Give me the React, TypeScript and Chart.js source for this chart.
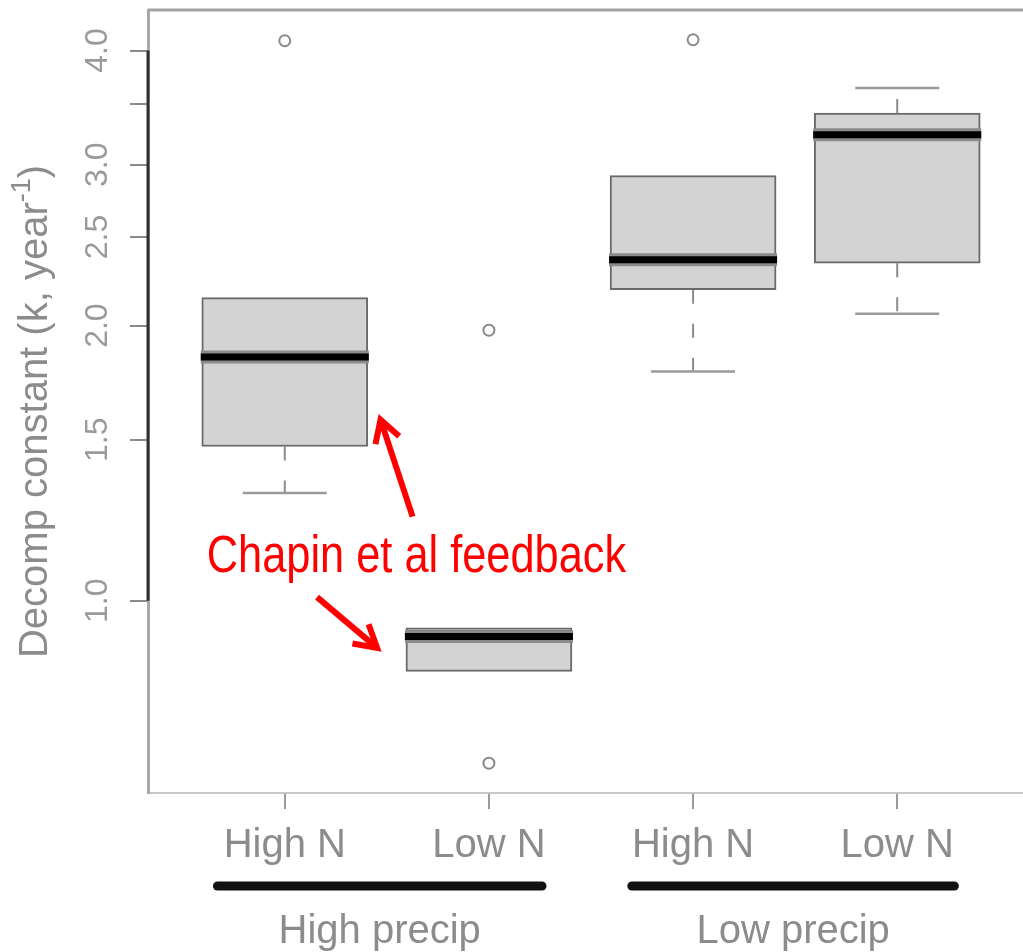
import { useEffect, useRef } from "react";
import { Chart, registerables } from "chart.js";

Chart.register(...registerables);

// Treatment categories along the x axis (positions 1..4)
const categories = ["High N", "Low N", "High N", "Low N"];

// Precipitation groups spanning pairs of categories
const groupLabels = ["High precip", "Low precip"];
const groupStart = [0.67, 2.7];
const groupEnd = [2.26, 4.28];

// Five-number summaries of the decomposition constant per treatment
const lowerWhisker = [1.312, 0.837, 1.782, 2.061];
const lowerQuartile = [1.475, 0.837, 2.189, 2.341];
const medianValue = [1.848, 0.914, 2.361, 3.235];
const upperQuartile = [2.146, 0.934, 2.918, 3.417];
const upperWhisker = [2.146, 0.934, 2.918, 3.639];
const outlierValues = [[4.1], [1.977, 0.664], [4.11], []];

// Log-scaled y axis ticks
const yTickValues = [1.0, 1.5, 2.0, 2.5, 3.0, 3.5, 4.0];
const yTickLabels = ["1.0", "1.5", "2.0", "2.5", "3.0", "", "4.0"];

const yTitle = "Decomp constant (k, year";
const yTitleExponent = "-1";
const noteText = "Chapin et al feedback";

const SANS = '"Liberation Sans", Arial, Helvetica, sans-serif';
const TEXT_GREY = "#8c8c8c";

// Annotation placement, in axis units (x category position, y decomp constant)
const NOTE_ANCHOR = { x: 1.645, y: 1.076 };
const NOTE_ARROWS = [
  { from: { x: 1.626, y: 1.236 }, to: { x: 1.469, y: 1.578 } },
  { from: { x: 1.158, y: 1.009 }, to: { x: 1.452, y: 0.888 } },
];

const positions = categories.map((_, i) => i + 1);

function drawArrow(ctx: CanvasRenderingContext2D, x0: number, y0: number, x1: number, y1: number) {
  const ang = Math.atan2(y0 - y1, x0 - x1);
  const head = 25;
  const spread = Math.PI / 6;
  ctx.beginPath();
  ctx.moveTo(x0, y0);
  ctx.lineTo(x1, y1);
  ctx.stroke();
  ctx.beginPath();
  ctx.moveTo(x1 + Math.cos(ang + spread) * head, y1 + Math.sin(ang + spread) * head);
  ctx.lineTo(x1, y1);
  ctx.lineTo(x1 + Math.cos(ang - spread) * head, y1 + Math.sin(ang - spread) * head);
  ctx.stroke();
}

const decorations = {
  id: "decorations",
  afterDraw(chart: any) {
    const { ctx, chartArea: a } = chart;
    const xs = chart.scales.x;
    const ys = chart.scales.y;
    ctx.save();

    // frame line along the top of the plot region
    ctx.strokeStyle = "#a4a4a4";
    ctx.lineWidth = 3;
    ctx.beginPath();
    ctx.moveTo(a.left, a.top);
    ctx.lineTo(a.right, a.top);
    ctx.stroke();

    // dark axis line between the first and last y tick
    ctx.strokeStyle = "#303030";
    ctx.lineWidth = 3;
    ctx.beginPath();
    ctx.moveTo(a.left, ys.getPixelForValue(yTickValues[0]));
    ctx.lineTo(a.left, ys.getPixelForValue(yTickValues[yTickValues.length - 1]));
    ctx.stroke();

    // y axis title with superscript exponent
    ctx.save();
    ctx.translate(36, (a.top + a.bottom) / 2 + 10);
    ctx.rotate(-Math.PI / 2);
    ctx.fillStyle = TEXT_GREY;
    ctx.textBaseline = "middle";
    ctx.textAlign = "left";
    ctx.font = `40px ${SANS}`;
    const w1 = ctx.measureText(yTitle).width;
    const w3 = ctx.measureText(")").width;
    ctx.font = `27px ${SANS}`;
    const w2 = ctx.measureText(yTitleExponent).width;
    let cx = -(w1 + w2 + w3) / 2;
    ctx.font = `40px ${SANS}`;
    ctx.fillText(yTitle, cx, 0);
    cx += w1;
    ctx.font = `27px ${SANS}`;
    ctx.fillText(yTitleExponent, cx, -13);
    cx += w2;
    ctx.font = `40px ${SANS}`;
    ctx.fillText(")", cx, 0);
    ctx.restore();

    // group bars and labels under the category labels
    groupLabels.forEach((label, i) => {
      const gx0 = xs.getPixelForValue(groupStart[i]);
      const gx1 = xs.getPixelForValue(groupEnd[i]);
      ctx.strokeStyle = "#111";
      ctx.lineWidth = 9;
      ctx.lineCap = "round";
      ctx.beginPath();
      ctx.moveTo(gx0, a.bottom + 93);
      ctx.lineTo(gx1, a.bottom + 93);
      ctx.stroke();
      ctx.fillStyle = TEXT_GREY;
      ctx.font = `40px ${SANS}`;
      ctx.textAlign = "center";
      ctx.textBaseline = "alphabetic";
      ctx.fillText(label, (gx0 + gx1) / 2, a.bottom + 150);
    });

    // red annotation, set in a condensed face
    ctx.fillStyle = "#ff0000";
    ctx.strokeStyle = "#ff0000";
    ctx.save();
    ctx.translate(xs.getPixelForValue(NOTE_ANCHOR.x), ys.getPixelForValue(NOTE_ANCHOR.y));
    ctx.scale(0.85, 1);
    ctx.font = `51px ${SANS}`;
    ctx.textAlign = "center";
    ctx.textBaseline = "alphabetic";
    ctx.fillText(noteText, 0, 0);
    ctx.restore();
    ctx.lineWidth = 6;
    ctx.lineCap = "butt";
    ctx.lineJoin = "miter";
    NOTE_ARROWS.forEach((arr) => {
      drawArrow(
        ctx,
        xs.getPixelForValue(arr.from.x),
        ys.getPixelForValue(arr.from.y),
        xs.getPixelForValue(arr.to.x),
        ys.getPixelForValue(arr.to.y)
      );
    });
    ctx.restore();
  },
};

export default function App() {
  const canvasRef = useRef<HTMLCanvasElement | null>(null);

  useEffect(() => {
    const canvas = canvasRef.current;
    if (!canvas) return;

    const whiskerPoints: any[] = [];
    const capPoints: any[] = [];
    positions.forEach((x, i) => {
      if (lowerWhisker[i] < lowerQuartile[i]) {
        whiskerPoints.push({ x, y: lowerQuartile[i] }, { x, y: lowerWhisker[i] }, { x, y: null });
        capPoints.push({ x, y: lowerWhisker[i] });
      }
      if (upperWhisker[i] > upperQuartile[i]) {
        whiskerPoints.push({ x, y: upperQuartile[i] }, { x, y: upperWhisker[i] }, { x, y: null });
        capPoints.push({ x, y: upperWhisker[i] });
      }
    });
    const medianPoints = positions.map((x, i) => ({ x, y: medianValue[i] }));
    const outlierPoints: any[] = [];
    positions.forEach((x, i) => outlierValues[i].forEach((v) => outlierPoints.push({ x, y: v })));

    const chart = new Chart(canvas, {
      type: "bar",
      data: {
        datasets: [
          {
            type: "scatter",
            label: "whiskers",
            data: whiskerPoints,
            showLine: true,
            spanGaps: false,
            borderColor: "#8c8c8c",
            borderWidth: 2,
            borderDash: [14, 20],
            pointRadius: 0,
            order: 6,
          } as any,
          {
            type: "scatter",
            label: "caps",
            data: capPoints,
            pointStyle: "line",
            pointRadius: 42,
            pointBorderColor: "#9a9a9a",
            pointBorderWidth: 2.5,
            order: 5,
          } as any,
          {
            type: "bar",
            label: "boxes",
            data: positions.map((x, i) => ({ x, y: [lowerQuartile[i], upperQuartile[i]] })),
            backgroundColor: "#d3d3d3",
            borderColor: "#6a6a6a",
            borderWidth: 2,
            borderSkipped: false,
            barThickness: 166,
            order: 4,
          } as any,
          {
            type: "scatter",
            label: "median halo",
            data: medianPoints,
            pointStyle: "line",
            pointRadius: 84,
            pointBorderColor: "#8a8a8a",
            pointBorderWidth: 13,
            order: 3,
          } as any,
          {
            type: "scatter",
            label: "median",
            data: medianPoints,
            pointStyle: "line",
            pointRadius: 84,
            pointBorderColor: "#000000",
            pointBorderWidth: 7,
            order: 2,
          } as any,
          {
            type: "scatter",
            label: "outliers",
            data: outlierPoints,
            pointStyle: "circle",
            pointRadius: 5.5,
            pointBackgroundColor: "rgba(0,0,0,0)",
            pointBorderColor: "#8a8a8a",
            pointBorderWidth: 2,
            order: 1,
          } as any,
        ],
      },
      options: {
        responsive: false,
        animation: false,
        events: [],
        layout: { autoPadding: false, padding: { top: 10, left: 0, right: 0, bottom: 0 } },
        plugins: {
          legend: { display: false },
          tooltip: { enabled: false },
          title: { display: false },
        },
        scales: {
          x: {
            type: "linear",
            min: 0.33,
            max: 4.67,
            bounds: "data",
            offset: false,
            afterBuildTicks: (s: any) => {
              s.ticks = positions.map((v) => ({ value: v }));
            },
            afterFit: (s: any) => {
              s.height = 159;
              s.paddingLeft = 0;
              s.paddingRight = 0;
            },
            ticks: {
              autoSkip: false,
              maxRotation: 0,
              minRotation: 0,
              padding: 13,
              color: TEXT_GREY,
              font: { family: SANS, size: 40 },
              callback: (_v: any, i: number) => categories[i],
            },
            grid: {
              offset: false,
              drawOnChartArea: false,
              tickLength: 16,
              color: "#9a9a9a",
              lineWidth: 2,
            },
            border: { display: true, color: "#c8c8c8", width: 2 },
          },
          y: {
            type: "logarithmic",
            min: 0.616,
            max: 4.43,
            bounds: "data",
            afterBuildTicks: (s: any) => {
              s.ticks = yTickValues.map((v) => ({ value: v }));
            },
            afterFit: (s: any) => {
              s.width = 148;
              s.paddingTop = 0;
              s.paddingBottom = 0;
            },
            ticks: {
              autoSkip: false,
              minRotation: 90,
              maxRotation: 90,
              crossAlign: "center",
              padding: 10,
              color: "#9a9a9a",
              font: { family: SANS, size: 32 },
              callback: (_v: any, i: number) => yTickLabels[i],
            },
            grid: {
              drawOnChartArea: false,
              tickLength: 18,
              color: "#8a8a8a",
              lineWidth: 2,
            },
            border: { display: true, color: "#a8a8a8", width: 3 },
          },
        },
      } as any,
      plugins: [decorations],
    });

    return () => chart.destroy();
  }, []);

  return (
    <div
      style={{
        position: "fixed",
        left: 0,
        top: 0,
        width: 1023,
        height: 952,
        overflow: "hidden",
        background: "#ffffff",
      }}
    >
      <canvas ref={canvasRef} width={1034} height={952} style={{ display: "block" }} />
    </div>
  );
}
